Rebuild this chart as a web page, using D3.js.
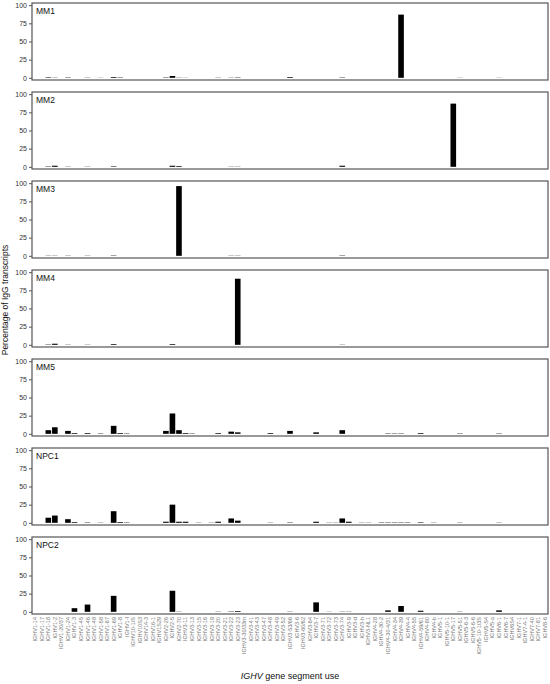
<!DOCTYPE html>
<html>
<head>
<meta charset="utf-8">
<script src="https://cdn.jsdelivr.net/npm/d3@7"></script>
<style>
  body { margin: 0; background: #fff; }
  text { font-family: Arial, "Liberation Sans", sans-serif; }
</style>
</head>
<body>
<svg width="550" height="684"></svg>
<script>
// gene segments along the x axis
var genes = ["IGHV1-14","IGHV1-17","IGHV1-18","IGHV1-2","IGHV1-20/37","IGHV1-24","IGHV1-3","IGHV1-45","IGHV1-46","IGHV1-48",
  "IGHV1-58","IGHV1-67","IGHV1-69","IGHV1-8","IGHV1-f","IGHV10-1/S","IGHV10S3","IGHV14-3","IGHV16-1","IGHV1S29",
  "IGHV2-26","IGHV2-5","IGHV2-70","IGHV3-11","IGHV3-13","IGHV3-15","IGHV3-16","IGHV3-19","IGHV3-20","IGHV3-21",
  "IGHV3-22","IGHV3-23","IGHV3-30/33rn","IGHV3-41","IGHV3-43","IGHV3-47","IGHV3-48","IGHV3-49","IGHV3-52","IGHV3-53/66",
  "IGHV3-6","IGHV3-60/62","IGHV3-64","IGHV3-7","IGHV3-71","IGHV3-72","IGHV3-73","IGHV3-74","IGHV3-9","IGHV3-d",
  "IGHV3-h","IGHV3-NL1","IGHV4-28","IGHV4-30-2","IGHV4-30-4/31","IGHV4-34","IGHV4-39","IGHV4-4","IGHV4-55","IGHV4-59/61",
  "IGHV4-80","IGHV4-b","IGHV5-1","IGHV5-10-1","IGHV5-17","IGHV5-51","IGHV5-6-3","IGHV5-6-6","IGHV5-10-1/3S","IGHV5-S4",
  "IGHV5-a","IGHV6-1","IGHV6-7","IGHV6S4","IGHV7-1","IGHV7-4-1","IGHV7-40","IGHV7-81","IGHV8-6"];

var samples = ["MM1", "MM2", "MM3", "MM4", "MM5", "NPC1", "NPC2"];

// % of IgG transcripts per gene, same order as genes (10 per row)
var mm1 = [0,0,0.7,0.3,0,0.5,0,0,0.3,0,
  0.2,0,1,0.5,0,0,0,0,0,0,
  0.5,2.5,0.3,0.2,0,0,0,0,0.3,0,
  0.3,0.5,0,0,0,0,0,0,0,1,
  0,0,0,0,0,0,0,0.5,0,0,
  0,0,0,0,0,0,87,0,0,0,
  0,0,0,0,0,0.2,0,0,0,0,
  0,0.2,0,0,0,0,0,0,0];
var mm2 = [0,0,0.5,1.5,0,0.3,0,0,0.3,0,
  0,0,0.7,0,0,0,0,0,0,0,
  0,1.5,1,0,0,0,0,0,0,0,
  0.3,0.3,0,0,0,0,0,0,0,0,
  0,0,0,0,0,0,0,1.5,0,0,
  0,0,0,0,0,0,0,0,0,0,
  0,0,0,0,87,0,0,0,0,0,
  0,0,0,0,0,0,0,0,0];
var mm3 = [0,0,0.3,0.3,0,0.3,0,0,0.3,0,
  0,0,0.5,0,0,0,0,0,0,0,
  0,0,96,0,0,0,0,0,0,0,
  0.3,0.3,0,0,0,0,0,0,0,0,
  0,0,0,0,0,0,0,0.5,0,0,
  0,0,0,0,0,0,0,0,0,0,
  0,0,0,0,0,0,0,0,0,0,
  0,0,0,0,0,0,0,0,0];
var mm4 = [0,0,0.5,1.5,0,0.3,0,0,0.3,0,
  0,0,1,0,0,0,0,0,0,0,
  0,1,0,0,0,0,0,0,0,0,
  0,91,0,0,0,0,0,0,0,0,
  0,0,0,0,0,0,0,0.3,0,0,
  0,0,0,0,0,0,0,0,0,0,
  0,0,0,0,0,0,0,0,0,0,
  0,0,0,0,0,0,0,0,0];
var mm5 = [0,0,5,9,0,4,1,0,1,0,
  0.5,0,11,1,0.5,0,0,0,0,0,
  4,28,5,1,0.5,0,0,0,1,0,
  3,2,0,0,0,0,1,0,0,4,
  0,0,0,2,0,0,0,5,0,0,
  0,0,0,0,0.5,0.5,0.5,0,0,1,
  0,0,0,0,0,0.5,0,0,0,0,
  0,0.5,0,0,0,0,0,0,0];
var npc1 = [0,0,7,10,0,5,1,0,0.5,0,
  0.3,0,16,1,0.5,0,0,0,0,0,
  1.5,25,1.5,1.5,0,0.3,0,0.3,1.5,0,
  6,3,0,0,0,0,0.3,0,0,0.5,
  0,0,0,1.5,0,0.3,0.3,6,1.5,0,
  0.3,0.3,0,0.5,0.5,0.5,0.5,0.5,0,0.7,
  0,0.3,0,0,0,0.3,0,0,0,0,
  0,0.3,0,0,0,0,0,0,0];
var npc2 = [0,0,0,0,0,0,5,0,10,0,
  0,0,22,0,0,0,0,0,0,0,
  0,29,0.3,0,0,0,0,0,0.3,0,
  0.5,1,0,0,0,0,0,0,0,0.3,
  0,0,0,13,0,0.2,0,0.3,0.3,0,
  0,0,0,0,2,0,8,0,0,1.5,
  0,0,0,0,0,0.3,0,0,0,0,
  0,2,0,0,0,0,0,0,0];

var yTicks = [0, 25, 50, 75, 100];

var series = [mm1, mm2, mm3, mm4, mm5, npc1, npc2];

var svg = d3.select("svg"),
    left = 32, right = 548,
    top0 = 3, panelStep = 89, panelH = 77;

var x = d3.scaleBand()
    .domain(genes)
    .range([left, right])
    .paddingInner(0.14)
    .paddingOuter(0.07);

samples.forEach(function (name, i) {
  var top = top0 + i * panelStep;
  var y = d3.scaleLinear().domain([-3, 103]).range([top + panelH, top]);
  var g = svg.append("g").attr("class", "panel");

  g.selectAll("rect.bar")
    .data(series[i].map(function (v, j) { return {gene: genes[j], value: v}; })
      .filter(function (d) { return d.value > 0; }))
    .enter().append("rect")
    .attr("class", "bar")
    .attr("x", function (d) { return x(d.gene); })
    .attr("width", x.bandwidth())
    .attr("y", function (d) { return y(d.value); })
    .attr("height", function (d) { return y(0) - y(d.value); })
    .attr("fill", "#000");

  // frame round each panel
  g.append("rect")
    .attr("x", left).attr("y", top)
    .attr("width", right - left).attr("height", panelH)
    .attr("fill", "none")
    .attr("stroke", "#555")
    .attr("stroke-width", 1.2);

  var yAxis = g.append("g")
    .attr("transform", "translate(" + left + ",0)")
    .call(d3.axisLeft(y).tickValues(yTicks).tickSize(3).tickPadding(2));
  yAxis.select(".domain").remove();
  yAxis.selectAll("line").attr("stroke", "#555");
  yAxis.selectAll("text").attr("font-size", "7px").attr("fill", "#333")
    .style("font-family", "Arial, 'Liberation Sans', sans-serif");

  g.append("text")
    .attr("x", left + 4)
    .attr("y", top + 11)
    .attr("font-size", "8.5px")
    .attr("fill", "#111")
    .text(name);
});

// gene labels under the last panel
var bottom = top0 + 6 * panelStep + panelH;
svg.append("g")
  .selectAll("text")
  .data(genes)
  .enter().append("text")
  .attr("transform", function (d) {
    return "translate(" + (x(d) + x.bandwidth() / 2 + 2) + "," + (bottom + 3) + ") rotate(-90)";
  })
  .attr("text-anchor", "end")
  .attr("font-size", "5.5px")
  .attr("fill", "#777")
  .text(function (d) { return d; });

svg.append("text")
  .attr("transform", "translate(8,300) rotate(-90)")
  .attr("text-anchor", "middle")
  .attr("font-size", "8.5px")
  .attr("fill", "#111")
  .text("Percentage of IgG transcripts");

var xTitle = svg.append("text")
  .attr("x", 290)
  .attr("y", 679)
  .attr("text-anchor", "middle")
  .attr("font-size", "9px")
  .attr("fill", "#111");
xTitle.append("tspan").attr("font-style", "italic").text("IGHV");
xTitle.append("tspan").text(" gene segment use");
</script>
</body>
</html>
